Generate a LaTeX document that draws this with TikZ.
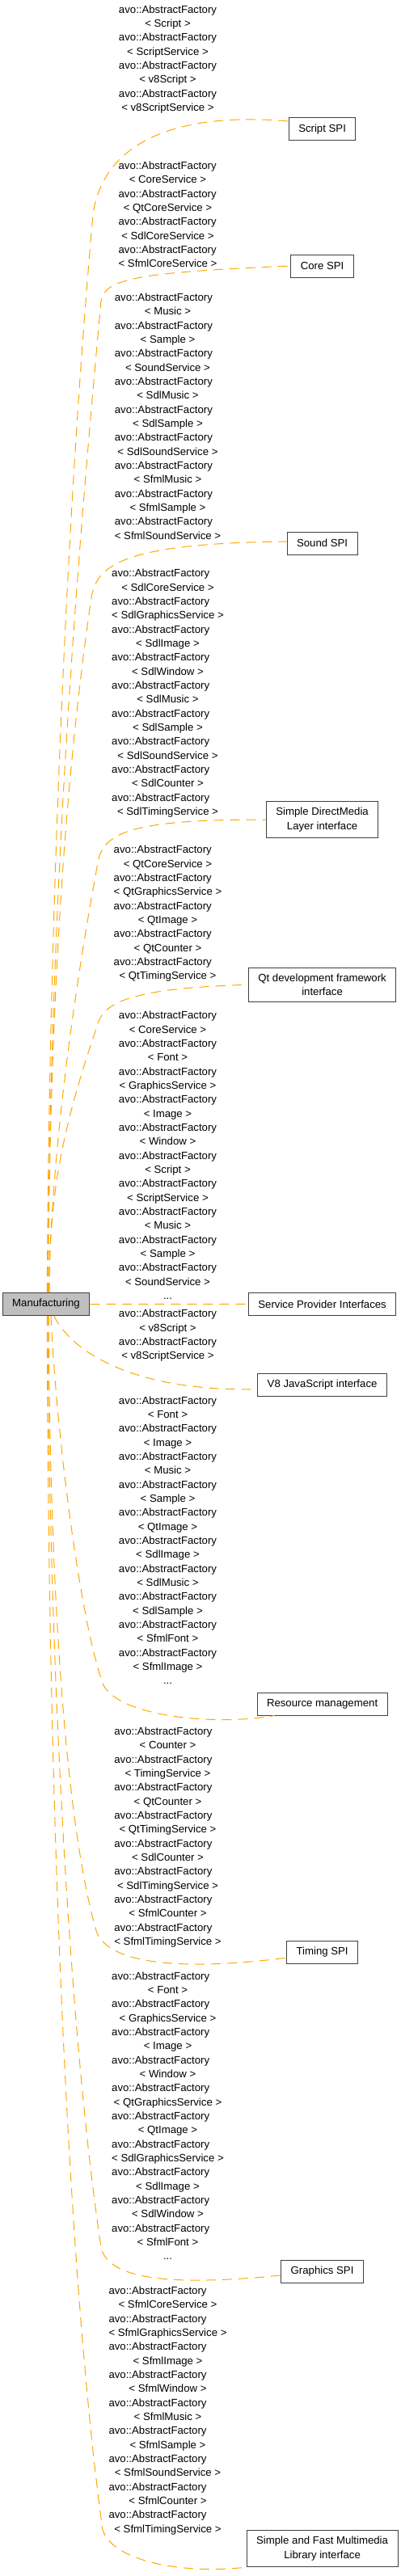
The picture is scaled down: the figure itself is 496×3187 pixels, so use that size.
\documentclass[tikz,border=0pt]{standalone}
\usepackage{fontspec}
\setmainfont{Liberation Sans}
\definecolor{grey75}{rgb}{0.75, 0.75, 0.75}
\definecolor{edgeorange}{rgb}{1.0, 0.65, 0.0}
\newcommand\lblfont{\fontsize{9.9}{13}\selectfont}
\newlength\labw
\newlength\afw
\newcommand\setlabw[1]{\settowidth\labw{#1}\settowidth\afw{avo::AbstractFactory}\ifdim\afw>\labw\labw=\afw\fi\global\labw=\labw}
\newcommand\af{\makebox[\labw][l]{avo::AbstractFactory}}
\newcommand\tp[1]{\af\\< #1 >}

\begin{document}
\begin{tikzpicture}[x=0.75pt,y=-0.75pt,
	box/.style={draw=black!75,line width=0.75pt,inner xsep=9pt,inner ysep=5.8pt,minimum height=21pt,align=center,font=\lblfont},
	lbl/.style={align=center,inner sep=0pt,font=\lblfont},
	link/.style={draw=edgeorange,line width=0.75pt,dash pattern=on 9pt off 6pt}]
		\useasboundingbox (0,0) rectangle (496,3187);
		
		\node[box,fill=grey75] (man) at (57,1613.5) {Manufacturing};
		
		\node[box] (scr) at (398.6,159.7) {Script SPI};
		\node[box] (core) at (398.6,329) {Core SPI};
		\node[box] (snd) at (398.6,672) {Sound SPI};
		\node[box] (sdl) at (398.6,1014) {Simple DirectMedia\\Layer interface};
		\node[box] (qt) at (398.6,1218.3) {Qt development framework\\interface};
		\node[box] (spi) at (398.6,1613.3) {Service Provider Interfaces};
		\node[box] (v8) at (398.6,1713.3) {V8 JavaScript interface};
		\node[box] (res) at (398.6,2108) {Resource management};
		\node[box] (tim) at (398.6,2415.5) {Timing SPI};
		\node[box] (gfx) at (398.6,2810) {Graphics SPI};
		\node[box] (sfml) at (398.6,3153) {Simple and Fast Multimedia\\Library interface};
		
		\node[lbl] (lscr) at (207.5,73.5) {\setlabw{< v8ScriptService >}\tp{Script}\\\tp{ScriptService}\\\tp{v8Script}\\\tp{v8ScriptService}};
		\node[lbl] (lcore) at (207.5,265.3) {\setlabw{< SfmlCoreService >}\tp{CoreService}\\\tp{QtCoreService}\\\tp{SdlCoreService}\\\tp{SfmlCoreService}};
		\node[lbl] (lsnd) at (207.5,515) {\setlabw{< SfmlSoundService >}\tp{Music}\\\tp{Sample}\\\tp{SoundService}\\\tp{SdlMusic}\\\tp{SdlSample}\\\tp{SdlSoundService}\\\tp{SfmlMusic}\\\tp{SfmlSample}\\\tp{SfmlSoundService}};
		\node[lbl] (lsdl) at (207.5,857.8) {\setlabw{< SdlGraphicsService >}\tp{SdlCoreService}\\\tp{SdlGraphicsService}\\\tp{SdlImage}\\\tp{SdlWindow}\\\tp{SdlMusic}\\\tp{SdlSample}\\\tp{SdlSoundService}\\\tp{SdlCounter}\\\tp{SdlTimingService}};
		\node[lbl] (lqt) at (207.5,1130.5) {\setlabw{< QtGraphicsService >}\tp{QtCoreService}\\\tp{QtGraphicsService}\\\tp{QtImage}\\\tp{QtCounter}\\\tp{QtTimingService}};
		\node[lbl] (lspi) at (207.5,1429.3) {\setlabw{< GraphicsService >}\tp{CoreService}\\\tp{Font}\\\tp{GraphicsService}\\\tp{Image}\\\tp{Window}\\\tp{Script}\\\tp{ScriptService}\\\tp{Music}\\\tp{Sample}\\\tp{SoundService}\\...};
		\node[lbl] (lv8) at (207.5,1652.5) {\setlabw{< v8ScriptService >}\tp{v8Script}\\\tp{v8ScriptService}};
		\node[lbl] (lres) at (207.5,1905.7) {\setlabw{< SfmlImage >}\tp{Font}\\\tp{Image}\\\tp{Music}\\\tp{Sample}\\\tp{QtImage}\\\tp{SdlImage}\\\tp{SdlMusic}\\\tp{SdlSample}\\\tp{SfmlFont}\\\tp{SfmlImage}\\...};
		\node[lbl] (ltim) at (207.5,2273) {\setlabw{< SfmlTimingService >}\tp{Counter}\\\tp{TimingService}\\\tp{QtCounter}\\\tp{QtTimingService}\\\tp{SdlCounter}\\\tp{SdlTimingService}\\\tp{SfmlCounter}\\\tp{SfmlTimingService}};
		\node[lbl] (lgfx) at (207.5,2617.7) {\setlabw{< SdlGraphicsService >}\tp{Font}\\\tp{GraphicsService}\\\tp{Image}\\\tp{Window}\\\tp{QtGraphicsService}\\\tp{QtImage}\\\tp{SdlGraphicsService}\\\tp{SdlImage}\\\tp{SdlWindow}\\\tp{SfmlFont}\\...};
		\node[lbl] (lsfml) at (207.5,2982.5) {\setlabw{< SfmlGraphicsService >}\tp{SfmlCoreService}\\\tp{SfmlGraphicsService}\\\tp{SfmlImage}\\\tp{SfmlWindow}\\\tp{SfmlMusic}\\\tp{SfmlSample}\\\tp{SfmlSoundService}\\\tp{SfmlCounter}\\\tp{SfmlTimingService}};
		
		% upwards
		\draw[link] ([xshift=1pt]man.north) .. controls (61,1100) and (85,600) .. (115,266) .. controls (127,175) and (220,138) .. ([yshift=7.3pt]scr.west);
		\draw[link] ([xshift=1.5pt]man.north) .. controls (62,1100) and (95,700) .. (125,372) .. controls (130,345) and (170,337) .. (core.west);
		\draw[link] ([xshift=2pt]man.north) .. controls (61,1300) and (75,1000) .. (113,739) .. controls (120,700) and (150,672) .. ([yshift=1.5pt]snd.west);
		\draw[link] ([xshift=2.5pt]man.north) .. controls (64,1400) and (100,1180) .. (122,1062) .. controls (132,1028) and (170,1014) .. (sdl.west);
		\draw[link] ([xshift=3pt]man.north) .. controls (61,1480) and (75,1400) .. (123,1261) .. controls (135,1236) and (180,1222) .. (qt.west);
		
		\draw[link] (man.east) -- (spi.west);
		
		% downwards
		\draw[link] ([xshift=7.3pt]man.south) .. controls (90,1675) and (170,1722) .. ([yshift=-4pt]v8.west);
		\draw[link] ([xshift=4.5pt]man.south) .. controls (70,1780) and (100,2010) .. (128,2085) .. controls (150,2125) and (270,2135) .. ([xshift=16.5pt]res.south west);
		\draw[link] ([xshift=2.5pt]man.south) .. controls (61,1950) and (80,2250) .. (118,2385) .. controls (128,2432) and (230,2438) .. ([yshift=-5pt]tim.west);
		\draw[link] ([xshift=1.5pt]man.south) .. controls (61,2100) and (90,2550) .. (125,2780) .. controls (133,2822) and (220,2828) .. ([yshift=-3.7pt]gfx.west);
		\draw[link] ([xshift=1pt]man.south) .. controls (60,2400) and (95,2900) .. (127,3130) .. controls (140,3170) and (230,3185) .. (sfml.south west);
		
\end{tikzpicture}
\end{document}
